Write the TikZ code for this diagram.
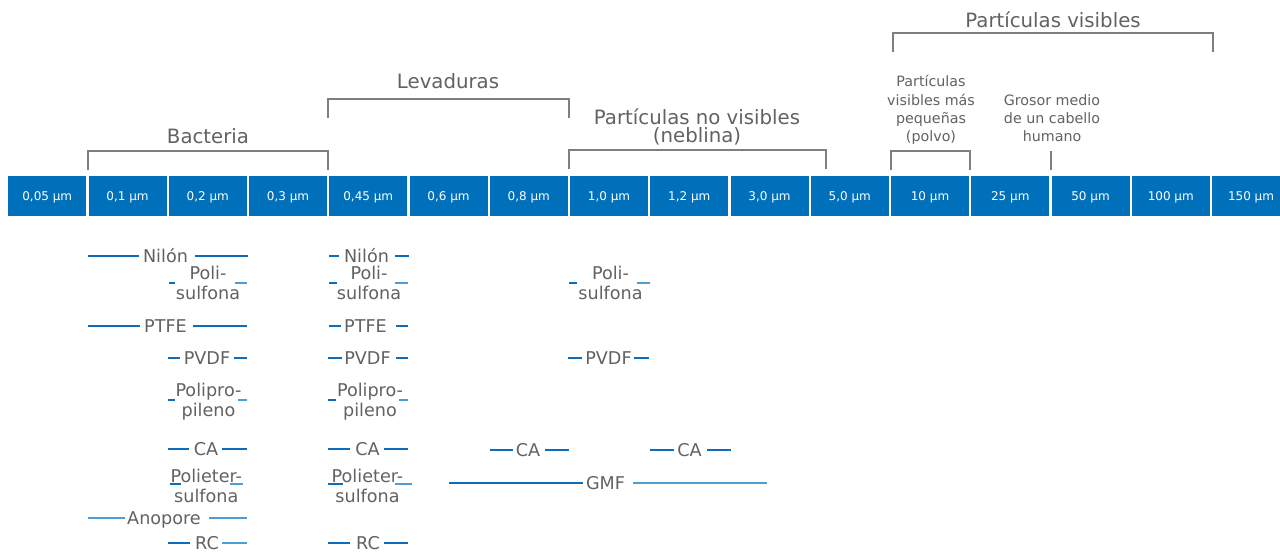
\documentclass[tikz,border=0pt]{standalone}
\usepackage{fontspec}
\setmainfont{DejaVu Sans}
\definecolor{cellblue}{HTML}{0070BA}
\definecolor{txtgray}{HTML}{626262}
\definecolor{brgray}{HTML}{7F7F7F}
\definecolor{lndark}{HTML}{0B6DBB}
\definecolor{lnlight}{HTML}{4E9DD4}
\tikzset{
  cell/.style={fill=cellblue, anchor=north west, minimum width=58.5pt, minimum height=30pt,
    inner sep=0pt, text=white, font=\fontsize{9}{11}\selectfont, text height=6.5pt, text depth=0pt},
  head/.style={anchor=base, inner sep=0pt, text=txtgray, font=\fontsize{14.8}{15}\selectfont},
  headm/.style={anchor=center, align=center, inner sep=0pt, text=txtgray, font=\fontsize{14.8}{13.5}\selectfont},
  note/.style={anchor=center, align=center, inner sep=0pt, text=txtgray, font=\fontsize{10.7}{13.7}\selectfont},
  lbl/.style={anchor=base, inner sep=0pt, text=txtgray, font=\fontsize{13.2}{15}\selectfont},
  lblm/.style={anchor=center, align=center, inner sep=0pt, text=txtgray, font=\fontsize{13.2}{15}\selectfont},
  bracket/.style={draw=brgray, line width=1.1pt},
  ln/.style={line width=1.3pt}
}
% name, y, text x, text, xa, xb, xc, xd, right colour
\newcommand\matline[9]{%
  \coordinate (#1a) at (#5,#2); \coordinate (#1b) at (#6,#2);
  \coordinate (#1c) at (#7,#2); \coordinate (#1d) at (#8,#2);
  \node[lbl] (#1) at (#3,#2+6) {#4};
  \draw[ln, draw=lndark] (#1a) -- (#1b);
  \draw[ln, draw=#9] (#1c) -- (#1d);}
\begin{document}
\begin{tikzpicture}[x=0.75pt, y=-0.75pt]
\useasboundingbox[fill=white] (0,0) rectangle (1280,553);

% scale cells
\foreach \lab [count=\i from 0] in {{0,05 µm},{0,1 µm},{0,2 µm},{0,3 µm},{0,45 µm},{0,6 µm},{0,8 µm},{1,0 µm},{1,2 µm},{3,0 µm},{5,0 µm},{10 µm},{25 µm},{50 µm},{100 µm},{150 µm}}
  \node[cell] (c\i) at ({8+80.25*\i},176) {\lab};

% headers
\node[head] (bact) at (208,143.5) {Bacteria};
\node[head] (lev) at (448,88) {Levaduras};
\node[headm] (novis) at (697,127) {Partículas no visibles\\(neblina)};
\node[head] (vis) at (1053,27) {Partículas visibles};
\node[note] (polvo) at (931,110) {Partículas\\visibles más\\pequeñas\\(polvo)};
\node[note] (grosor) at (1052,118) {Grosor medio\\de un cabello\\humano};

% brackets
\draw[bracket] (88,170) -- (88,151) -- (328,151) -- (328,170);
\draw[bracket] (328,118) -- (328,99) -- (569,99) -- (569,118);
\draw[bracket] (569,169) -- (569,150) -- (826,150) -- (826,169);
\draw[bracket] (893,52) -- (893,33) -- (1213,33) -- (1213,52);
\draw[bracket] (891,170) -- (891,151) -- (970,151) -- (970,170);
\draw[bracket] (1051,151) -- (1051,170);

% single-line materials
\matline{nil1}{256}{165.5}{Nilón}{88}{139}{195}{248}{lndark}
\matline{nil2}{256}{366.5}{Nilón}{329}{339}{395}{409}{lndark}
\matline{ptfe1}{326}{165.5}{PTFE}{88}{140}{193}{247}{lndark}
\matline{ptfe2}{326}{365.5}{PTFE}{329}{341}{396}{408}{lndark}
\matline{pvdf1}{358}{207}{PVDF}{168}{180}{234}{247}{lndark}
\matline{pvdf2}{358}{367.5}{PVDF}{328}{342}{396}{408}{lndark}
\matline{pvdf3}{358}{608.5}{PVDF}{568}{582}{634}{649}{lndark}
\matline{ca1}{449}{206}{CA}{168}{189}{222}{247}{lndark}
\matline{ca2}{449}{367.5}{CA}{328}{350}{384}{408}{lndark}
\matline{ca3}{450}{528}{CA}{490}{513}{545}{569}{lndark}
\matline{ca4}{450}{689.5}{CA}{650}{674}{707}{731}{lndark}
\matline{gmf}{483}{605.5}{GMF}{449}{583}{633}{767}{lnlight}
\matline{rc1}{543}{207}{RC}{168}{190}{222}{247}{lnlight}
\matline{rc2}{543}{368}{RC}{328}{350}{384}{408}{lndark}
\coordinate (anoa) at (88,518); \coordinate (anob) at (125,518);
\coordinate (anoc) at (209,518); \coordinate (anod) at (247,518);
\node[lbl] (ano) at (164,524) {Anopore};
\draw[ln, draw=lnlight] (anoa) -- (anob);
\draw[ln, draw=lnlight] (anoc) -- (anod);

% two-line materials
\node[lblm] (psf1) at (208,282.8) {Poli-\\sulfona};
\node[lblm] (psf2) at (369,282.8) {Poli-\\sulfona};
\node[lblm] (psf3) at (610.5,282.8) {Poli-\\sulfona};
\node[lblm] (pp1) at (208.5,401.4) {Polipro-\\pileno};
\node[lblm] (pp2) at (370,401.4) {Polipro-\\pileno};
\node[lblm] (pes1) at (206.3,486.3) {Polieter-\\sulfona};
\node[lblm] (pes2) at (367.5,486.3) {Polieter-\\sulfona};

\foreach \n/\y/\a/\b/\c/\d in {psf1/283/169/175/235/247, psf2/283/329/337/395/408, psf3/283/569/577/637/650,
    pp1/400/168/175/238/247, pp2/400/328/336/399/408,
    pes1/484/170/181/230/243, pes2/484/328/343/395/412}{
  \coordinate (\n-a) at (\a,\y); \coordinate (\n-b) at (\b,\y);
  \coordinate (\n-c) at (\c,\y); \coordinate (\n-d) at (\d,\y);
  \draw[ln, draw=lndark] (\n-a) -- (\n-b);
  \draw[ln, draw=lnlight] (\n-c) -- (\n-d);
}
\end{tikzpicture}
\end{document}
